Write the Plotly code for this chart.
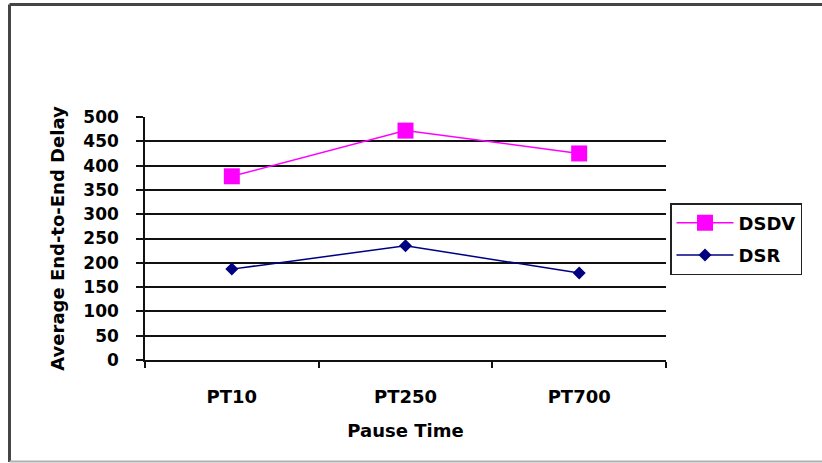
import plotly.graph_objects as go

categories = ["PT10", "PT250", "PT700"]
dsdv = [378, 472, 425]
dsr = [187, 235, 179]
y_ticks = [0, 50, 100, 150, 200, 250, 300, 350, 400, 450, 500]
grid_vals = [0, 50, 100, 150, 200, 250, 300, 350, 400, 450]

FONT = "DejaVu Sans"
W, H = 822, 463
L, R, T, B = 145, 156, 117, 103

def f(size=18):
    return dict(family=FONT, size=size, color="black", weight="bold")

fig = go.Figure()
fig.add_trace(go.Scatter(
    x=categories, y=dsdv, name="DSDV", mode="lines+markers",
    line=dict(color="#FF00FF", width=1.5),
    marker=dict(symbol="square", size=16, color="#FF00FF"),
    legendgroup="a",
))
fig.add_trace(go.Scatter(
    x=categories, y=dsr, name="DSR", mode="lines+markers",
    line=dict(color="#000080", width=1.5),
    marker=dict(symbol="diamond", size=10, color="#000080"),
    legendgroup="b",
))
# overlay axis only to carry gridlines below top edge
fig.add_trace(go.Scatter(x=categories, y=[None]*3, yaxis="y2", showlegend=False,
                         hoverinfo="skip"))

def px2px(x):
    return (x - L) / (W - L - R)

def py2py(y):
    return (H - B - y) / (H - T - B)

shapes = [
    dict(type="line", xref="paper", yref="paper", x0=px2px(9.5), x1=px2px(9.5),
         y0=py2py(4.5), y1=py2py(462), line=dict(color="#454545", width=3), layer="above"),
    dict(type="line", xref="paper", yref="paper", x0=px2px(9.5), x1=px2px(840),
         y0=py2py(4.5), y1=py2py(4.5), line=dict(color="#454545", width=3), layer="above"),
    dict(type="line", xref="paper", yref="paper", x0=px2px(9.5), x1=px2px(840),
         y0=py2py(461.5), y1=py2py(461.5), line=dict(color="#b0b0b0", width=2), layer="above"),
]

fig.update_layout(
    width=W, height=H,
    margin=dict(l=L, r=R, t=T, b=B),
    paper_bgcolor="white", plot_bgcolor="white",
    font=f(18),
    showlegend=True,
    legend=dict(
        x=px2px(670), y=py2py(203), xanchor="left", yanchor="top",
        bordercolor="#222", borderwidth=1.5, bgcolor="white",
        font=f(18), itemwidth=57,
        traceorder="grouped", tracegroupgap=6,
    ),
    xaxis=dict(
        type="category", range=[-0.5, 2.5],
        showline=True, linecolor="#111", linewidth=1.5,
        ticks="outside", tickson="boundaries", ticklen=6, tickcolor="#111", tickwidth=1.5,
        showgrid=False, zeroline=False,
        tickfont=f(18),
        ticklabelstandoff=20,
        title=dict(text="Pause Time", standoff=18, font=f(18)),
    ),
    yaxis=dict(
        range=[0, 500], tickvals=y_ticks,
        showline=True, linecolor="#111", linewidth=1.5,
        ticks="outside", ticklen=7, tickcolor="#111", tickwidth=1.5,
        showgrid=False, zeroline=False,
        tickfont=f(17),
        ticklabelstandoff=14,
        title=dict(text="Average End-to-End Delay", standoff=14, font=f(18)),
    ),
    yaxis2=dict(
        overlaying="y", range=[0, 500], tickvals=grid_vals,
        showgrid=True, gridcolor="#111", gridwidth=1.5,
        showticklabels=False, ticks="", showline=False, zeroline=False,
    ),
    shapes=shapes,
)

fig.write_html("out.html")
